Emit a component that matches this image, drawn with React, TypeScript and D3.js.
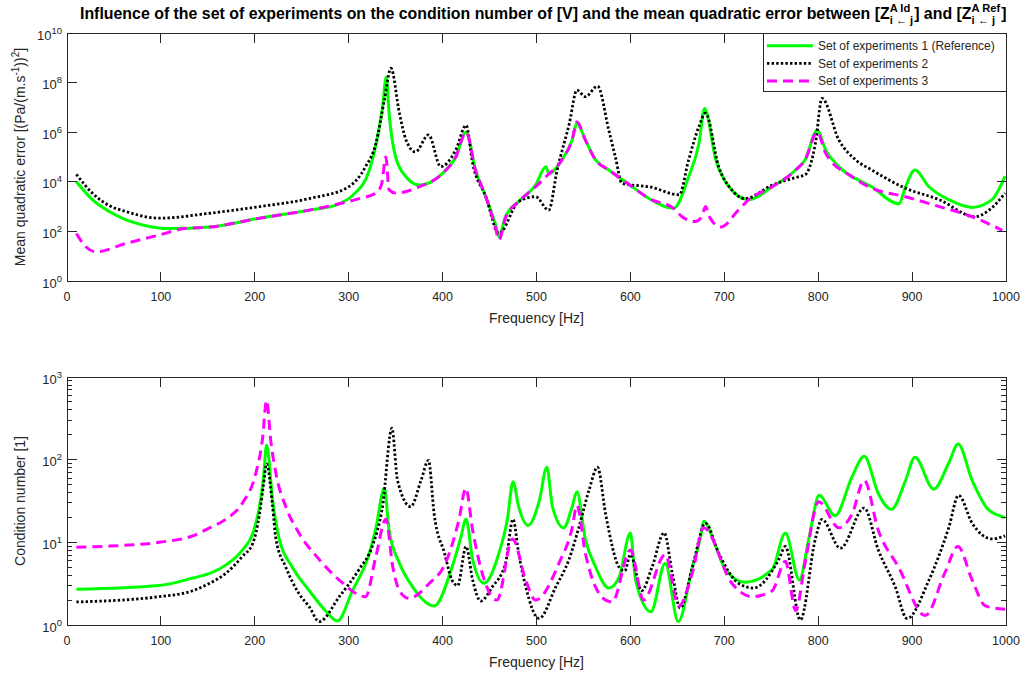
import React, { useEffect, useRef } from 'react';
import * as d3 from 'd3';

const W = 1026;
const H = 675;
const FONT = 'Arial, "Liberation Sans", Helvetica, sans-serif';
const TXT = '#262626';

// ---- tick values ----
const xTicks = [0, 100, 200, 300, 400, 500, 600, 700, 800, 900, 1000];
const topYTickExps = [0, 2, 4, 6, 8, 10];
const botYTickExps = [0, 1, 2, 3];

const legendLabels = ['Set of experiments 1 (Reference)', 'Set of experiments 2', 'Set of experiments 3'];

// ---- top panel: mean quadratic error [(Pa/(m.s^-1))^2] vs frequency [Hz] ----
const mqeSet1: [number, number][] = [
  [10, 1.0e4], [27, 1.9e3], [45, 6.3e2], [63, 2.9e2], [84, 1.7e2], [109, 1.3e2], [152, 1.5e2], [205, 3.4e2],
  [258, 7.2e2], [290, 1.3e3], [304, 2.8e3], [322, 3.0e4], [332, 1.2e6], [336, 1.0e7], [340, 1.7e8], [343, 5.8e6],
  [350, 1.0e5], [361, 1.6e4], [375, 7.4e3], [400, 2.2e4], [414, 1.0e5], [425, 1.0e6], [435, 3.0e4], [446, 2.5e3],
  [456, 2.1e2], [460, 63], [467, 4.0e2], [481, 1.6e3], [499, 7.4e3], [510, 4.0e4], [513, 2.2e4], [527, 7.6e4],
  [538, 4.9e5], [543, 2.3e6], [552, 4.9e5], [563, 7.6e4], [577, 3.0e4], [602, 6.3e3], [620, 2.1e3], [646, 8.5e2],
  [662, 1.6e4], [673, 3.5e5], [679, 9.1e6], [691, 7.6e4], [705, 6.3e3], [726, 1.9e3], [751, 6.3e3], [776, 3.0e4],
  [786, 7.6e4], [799, 1.2e6], [808, 1.9e5], [822, 4.1e4], [857, 6.3e3], [886, 1.3e3], [893, 6.3e3], [903, 3.0e4],
  [918, 6.3e3], [939, 1.9e3], [964, 9.3e2], [985, 1.9e3], [999, 1.7e4],
];
const mqeSet2: [number, number][] = [
  [10, 2.0e4], [27, 3.5e3], [45, 1.1e3], [63, 6.3e2], [98, 3.4e2], [152, 5.4e2], [205, 1.0e3], [258, 2.1e3],
  [300, 6.3e3], [318, 4.1e4], [329, 3.5e5], [338, 2.0e7], [345, 3.8e8], [354, 5.8e6], [361, 4.9e5], [371, 1.6e5],
  [385, 7.8e5], [398, 4.1e4], [414, 1.9e5], [425, 1.9e6], [432, 5.6e4], [446, 2.5e3], [460, 83], [481, 1.6e3],
  [499, 2.5e3], [513, 7.2e2], [522, 3.0e4], [535, 2.3e6], [543, 5.0e7], [552, 2.7e7], [565, 7.2e7], [577, 1.2e6],
  [584, 1.0e5], [591, 8.7e3], [602, 7.4e3], [620, 6.3e3], [652, 3.0e3], [662, 7.6e4], [673, 1.7e6], [680, 5.8e6],
  [694, 4.1e4], [708, 4.7e3], [722, 2.1e3], [751, 7.4e3], [779, 1.6e4], [786, 1.9e4], [797, 3.5e5], [804, 2.3e7],
  [822, 4.9e5], [840, 7.6e4], [857, 3.0e4], [893, 5.5e3], [929, 1.9e3], [967, 3.9e2], [982, 7.2e2], [999, 3.5e3],
];
const mqeSet3: [number, number][] = [
  [10, 83], [20, 24], [31, 15], [63, 33], [98, 71], [125, 1.3e2], [152, 1.5e2], [205, 3.4e2], [258, 7.2e2],
  [290, 1.3e3], [311, 2.1e3], [329, 3.5e3], [335, 7.9e3], [339.6, 1.0e5], [343, 4.7e3], [350, 3.5e3], [375, 6.3e3],
  [400, 2.2e4], [414, 1.0e5], [425, 1.0e6], [435, 3.0e4], [446, 2.5e3], [456, 1.6e2], [460, 45], [467, 3.5e2],
  [481, 1.6e3], [499, 6.3e3], [510, 1.6e4], [527, 7.6e4], [538, 5.0e5], [543, 2.6e6], [552, 4.9e5], [563, 7.6e4],
  [577, 3.0e4], [602, 6.3e3], [620, 2.1e3], [646, 8.5e2], [655, 3.9e2], [669, 2.5e2], [676, 3.9e2], [680, 1.0e3],
  [684, 4.0e2], [696, 1.5e2], [715, 7.2e2], [726, 1.9e3], [751, 6.3e3], [776, 3.0e4], [786, 7.6e4], [799, 1.0e6],
  [808, 1.4e5], [836, 1.6e4], [857, 5.5e3], [893, 2.5e3], [929, 1.0e3], [964, 3.9e2], [996, 1.1e2],
];

// ---- bottom panel: condition number [1] vs frequency [Hz] ----
const condSet1: [number, number][] = [
  [10, 2.7], [98, 3.0], [134, 3.7], [152, 4.2], [169, 5.3], [187, 8.1], [198, 13], [205, 27], [209, 56],
  [212.6, 150], [219, 32], [226, 11], [240, 5.0], [258, 2.6], [275, 1.5], [288, 1.12], [304, 2.6], [322, 7.4],
  [329, 15], [338, 45], [343, 14], [354, 5.6], [368, 2.9], [391, 1.7], [410, 5.0], [419, 11], [425, 19],
  [432, 6.2], [444, 3.2], [460, 7.4], [469, 19], [475, 54], [481, 27], [491, 16], [503, 32], [511, 81],
  [517, 27], [529, 15], [538, 27], [543, 41], [552, 11], [563, 5.0], [577, 2.8], [588, 3.8], [600, 13],
  [605.5, 3.5], [622, 1.45], [637, 5.6], [651, 1.1], [666, 5.0], [675, 12], [678, 18], [691, 8.9], [701, 4.7],
  [722, 3.3], [751, 4.7], [765, 13], [780, 3.5], [790, 11], [801, 37], [818, 21], [836, 62], [849, 110],
  [864, 39], [878, 25], [893, 56], [903, 107], [923, 44], [939, 91], [949, 155], [964, 56], [981, 25], [999, 20],
];
const condSet2: [number, number][] = [
  [10, 1.9], [98, 2.2], [134, 2.6], [152, 3.2], [169, 4.2], [187, 6.8], [198, 9.8], [205, 22], [209, 47],
  [212.6, 89], [219, 27], [222.5, 11], [233, 5.0], [247, 2.4], [258, 1.66], [268.6, 1.1], [290, 2.2], [311, 4.7],
  [325, 8.9], [336, 27], [346, 240], [352, 56], [366, 27], [377, 56], [385, 98], [391, 22], [402, 7.4],
  [410, 3.5], [416, 3.0], [425, 8.9], [432, 3.5], [440.6, 1.95], [453, 2.9], [467, 5.6], [475, 19], [481, 7.4],
  [488.5, 2.9], [502.7, 1.2], [520.6, 2.9], [534.6, 6.2], [545, 15], [556, 43], [565, 81], [573.6, 22], [588, 5.0],
  [594, 4.5], [600, 7.1], [612, 2.6], [623, 5.0], [636, 13], [644.5, 4.3], [653, 1.6], [666, 5.0], [680, 17],
  [694, 7.4], [715, 3.2], [731, 2.8], [758, 6.2], [765, 8.9], [781, 1.15], [797, 11], [804, 19], [823.6, 8.5],
  [849, 26], [864, 8.1], [882, 2.9], [894.5, 1.2], [918, 3.5], [939, 15], [949.5, 37], [964, 17], [985, 11], [999, 12],
];
const condSet3: [number, number][] = [
  [10, 8.7], [45, 9.0], [98, 10], [134, 12], [152, 15], [169, 19], [187, 30], [201, 68], [208, 170],
  [212.6, 520], [217, 170], [222.5, 68], [233, 27], [247, 13], [268.6, 6.2], [290, 3.5], [318, 2.2], [329, 6.8],
  [339.6, 19], [347, 5.0], [354, 2.6], [364, 2.1], [386, 3.2], [403, 5.6], [417.5, 19], [424.7, 45], [432, 14],
  [442, 4.3], [458, 2.0], [474.5, 11], [488.5, 3.5], [499, 2.0], [524, 5.6], [538, 15], [543, 28], [552, 7.4],
  [573.6, 2.0], [580.6, 1.9], [600, 8.1], [614, 2.0], [637, 7.1], [651.6, 1.7], [666, 4.3], [678, 15], [708, 3.2],
  [729.6, 2.2], [751, 2.6], [765, 5.9], [776, 1.5], [786, 5.6], [800.5, 31], [822, 15], [836, 22], [849, 56],
  [864, 14], [885.6, 5.0], [914, 1.3], [935, 4.3], [948.7, 8.9], [964, 3.5], [978, 1.7], [999, 1.55],
];

const seriesStyles = [
  { color: '#00ff00', width: 3, dash: null as string | null },
  { color: '#000000', width: 2.8, dash: '2.4 2.2' },
  { color: '#ff00ff', width: 3, dash: '10 6' },
];

const X_LEFT = 67;
const X_RIGHT = 1006;

export default function App() {
  const ref = useRef<SVGSVGElement>(null);

  useEffect(() => {
    const svg = d3.select(ref.current as SVGSVGElement);
    svg.selectAll('*').remove();

    const x = d3.scaleLinear().domain([0, 1000]).range([X_LEFT, X_RIGHT]);

    const panel = (
      id: string,
      yTop: number,
      yBot: number,
      maxExp: number,
      tickExps: number[],
      minor: boolean,
      series: [number, number][][],
      ylabelParts: { t: string; sup?: boolean }[],
    ) => {
      const y = d3.scaleLog().domain([1, Math.pow(10, maxExp)]).range([yBot, yTop]);
      const g = svg.append('g');
      g.append('defs').append('clipPath').attr('id', id)
        .append('rect').attr('x', X_LEFT).attr('y', yTop).attr('width', X_RIGHT - X_LEFT).attr('height', yBot - yTop);

      const line = d3.line<[number, number]>()
        .x(d => x(d[0]))
        .y(d => y(d[1]))
        .curve(d3.curveMonotoneX);
      const cg = g.append('g').attr('clip-path', `url(#${id})`);
      series.forEach((s, i) => {
        const st = seriesStyles[i];
        const p = cg.append('path').attr('d', line(s) as string)
          .attr('fill', 'none').attr('stroke', st.color).attr('stroke-width', st.width)
          .attr('stroke-linejoin', 'round');
        if (st.dash) p.attr('stroke-dasharray', st.dash);
      });

      const ax = g.append('g').attr('stroke', TXT).attr('stroke-width', 1).attr('shape-rendering', 'crispEdges');
      ax.append('rect').attr('x', X_LEFT).attr('y', yTop).attr('width', X_RIGHT - X_LEFT).attr('height', yBot - yTop).attr('fill', 'none');
      const TL = 9.5;
      xTicks.forEach(v => {
        ax.append('line').attr('x1', x(v)).attr('x2', x(v)).attr('y1', yBot).attr('y2', yBot - TL);
        ax.append('line').attr('x1', x(v)).attr('x2', x(v)).attr('y1', yTop).attr('y2', yTop + TL);
      });
      tickExps.forEach(e => {
        const yy = y(Math.pow(10, e));
        ax.append('line').attr('x1', X_LEFT).attr('x2', X_LEFT + TL).attr('y1', yy).attr('y2', yy);
        ax.append('line').attr('x1', X_RIGHT).attr('x2', X_RIGHT - TL).attr('y1', yy).attr('y2', yy);
      });
      if (minor) {
        for (let e = 0; e < maxExp; e++) {
          for (let m = 2; m <= 9; m++) {
            const yy = y(m * Math.pow(10, e));
            ax.append('line').attr('x1', X_LEFT).attr('x2', X_LEFT + 5).attr('y1', yy).attr('y2', yy);
            ax.append('line').attr('x1', X_RIGHT).attr('x2', X_RIGHT - 5).attr('y1', yy).attr('y2', yy);
          }
        }
      }

      const tl = g.append('g').attr('fill', TXT).attr('font-family', FONT);
      xTicks.forEach(v => {
        tl.append('text').attr('x', x(v)).attr('y', yBot + 19.5).attr('text-anchor', 'middle')
          .attr('font-size', 12.5).text(String(v));
      });
      tickExps.forEach(e => {
        const yy = y(Math.pow(10, e));
        const t = tl.append('text').attr('x', 62).attr('y', yy + 6.5).attr('text-anchor', 'end').attr('font-size', 13);
        t.append('tspan').text('10');
        t.append('tspan').attr('font-size', 9.5).attr('dy', -6).text(String(e));
      });

      tl.append('text').attr('x', (X_LEFT + X_RIGHT) / 2).attr('y', yBot + 42).attr('text-anchor', 'middle')
        .attr('font-size', 14).text('Frequency [Hz]');

      const yl = tl.append('text').attr('transform', `translate(25,${(yTop + yBot) / 2}) rotate(-90)`)
        .attr('text-anchor', 'middle').attr('font-size', 14);
      let raised = false;
      ylabelParts.forEach(p => {
        const ts = yl.append('tspan').text(p.t);
        if (p.sup && !raised) { ts.attr('font-size', 10).attr('dy', -6); raised = true; }
        else if (!p.sup && raised) { ts.attr('dy', 6); raised = false; }
        else if (p.sup) ts.attr('font-size', 10);
      });
    };

    panel('clipTop', 33, 281, 10, topYTickExps, false, [mqeSet1, mqeSet2, mqeSet3], [
      { t: 'Mean quadratic error [(Pa/(m.s' }, { t: '-1', sup: true }, { t: '))' }, { t: '2', sup: true }, { t: ']' },
    ]);
    panel('clipBot', 377, 625, 3, botYTickExps, true, [condSet1, condSet2, condSet3], [
      { t: 'Condition number [1]' },
    ]);

    // legend
    const lg = svg.append('g');
    lg.append('rect').attr('x', 763).attr('y', 33).attr('width', X_RIGHT - 763).attr('height', 58)
      .attr('fill', '#fff').attr('stroke', TXT).attr('stroke-width', 1).attr('shape-rendering', 'crispEdges');
    legendLabels.forEach((lab, i) => {
      const yy = 45.7 + i * 17.6;
      const st = seriesStyles[i];
      const l = lg.append('line').attr('x1', 767).attr('x2', 813).attr('y1', yy).attr('y2', yy)
        .attr('stroke', st.color).attr('stroke-width', st.width);
      if (st.dash) l.attr('stroke-dasharray', st.dash);
      lg.append('text').attr('x', 818).attr('y', yy + 4.3).attr('font-family', FONT).attr('font-size', 12)
        .attr('fill', TXT).text(lab);
    });

    // title with stacked super/subscripts, fitted to the observed width
    const pieces: { t?: string; sup?: string; sub?: string }[] = [
      { t: 'Influence of the set of experiments on the condition number of [V] and the mean quadratic error between [Z' },
      { sup: 'A Id', sub: 'i \u2190 j' },
      { t: '] and [Z' },
      { sup: 'A Ref', sub: 'i \u2190 j' },
      { t: ']' },
    ];
    const drawTitle = (fs: number) => {
      svg.selectAll('g.title').remove();
      const tg = svg.append('g').attr('class', 'title').attr('font-family', FONT)
        .attr('font-weight', 'bold').attr('fill', '#000');
      const base = 19;
      let cx = 0;
      const addText = (s: string, dy: number, size: number) => {
        const t = tg.append('text').attr('x', cx).attr('y', base + dy).attr('font-size', size).text(s);
        return (t.node() as SVGTextElement).getComputedTextLength();
      };
      const ss = fs * 0.7;
      pieces.forEach(p => {
        if (p.t) cx += addText(p.t, 0, fs);
        else {
          const w1 = addText(p.sup as string, -fs * 0.45, ss);
          const w2 = addText(p.sub as string, fs * 0.33, ss);
          cx += Math.max(w1, w2) + 1;
        }
      });
      return { tg, cx };
    };
    const first = drawTitle(13);
    const fs = 13 * 928 / first.cx;
    const final = drawTitle(fs);
    final.tg.attr('transform', `translate(${80},0)`);
  }, []);

  return (
    <svg ref={ref} width={W} height={H}
      style={{ position: 'absolute', left: 0, top: 0, background: '#fff' }} />
  );
}
